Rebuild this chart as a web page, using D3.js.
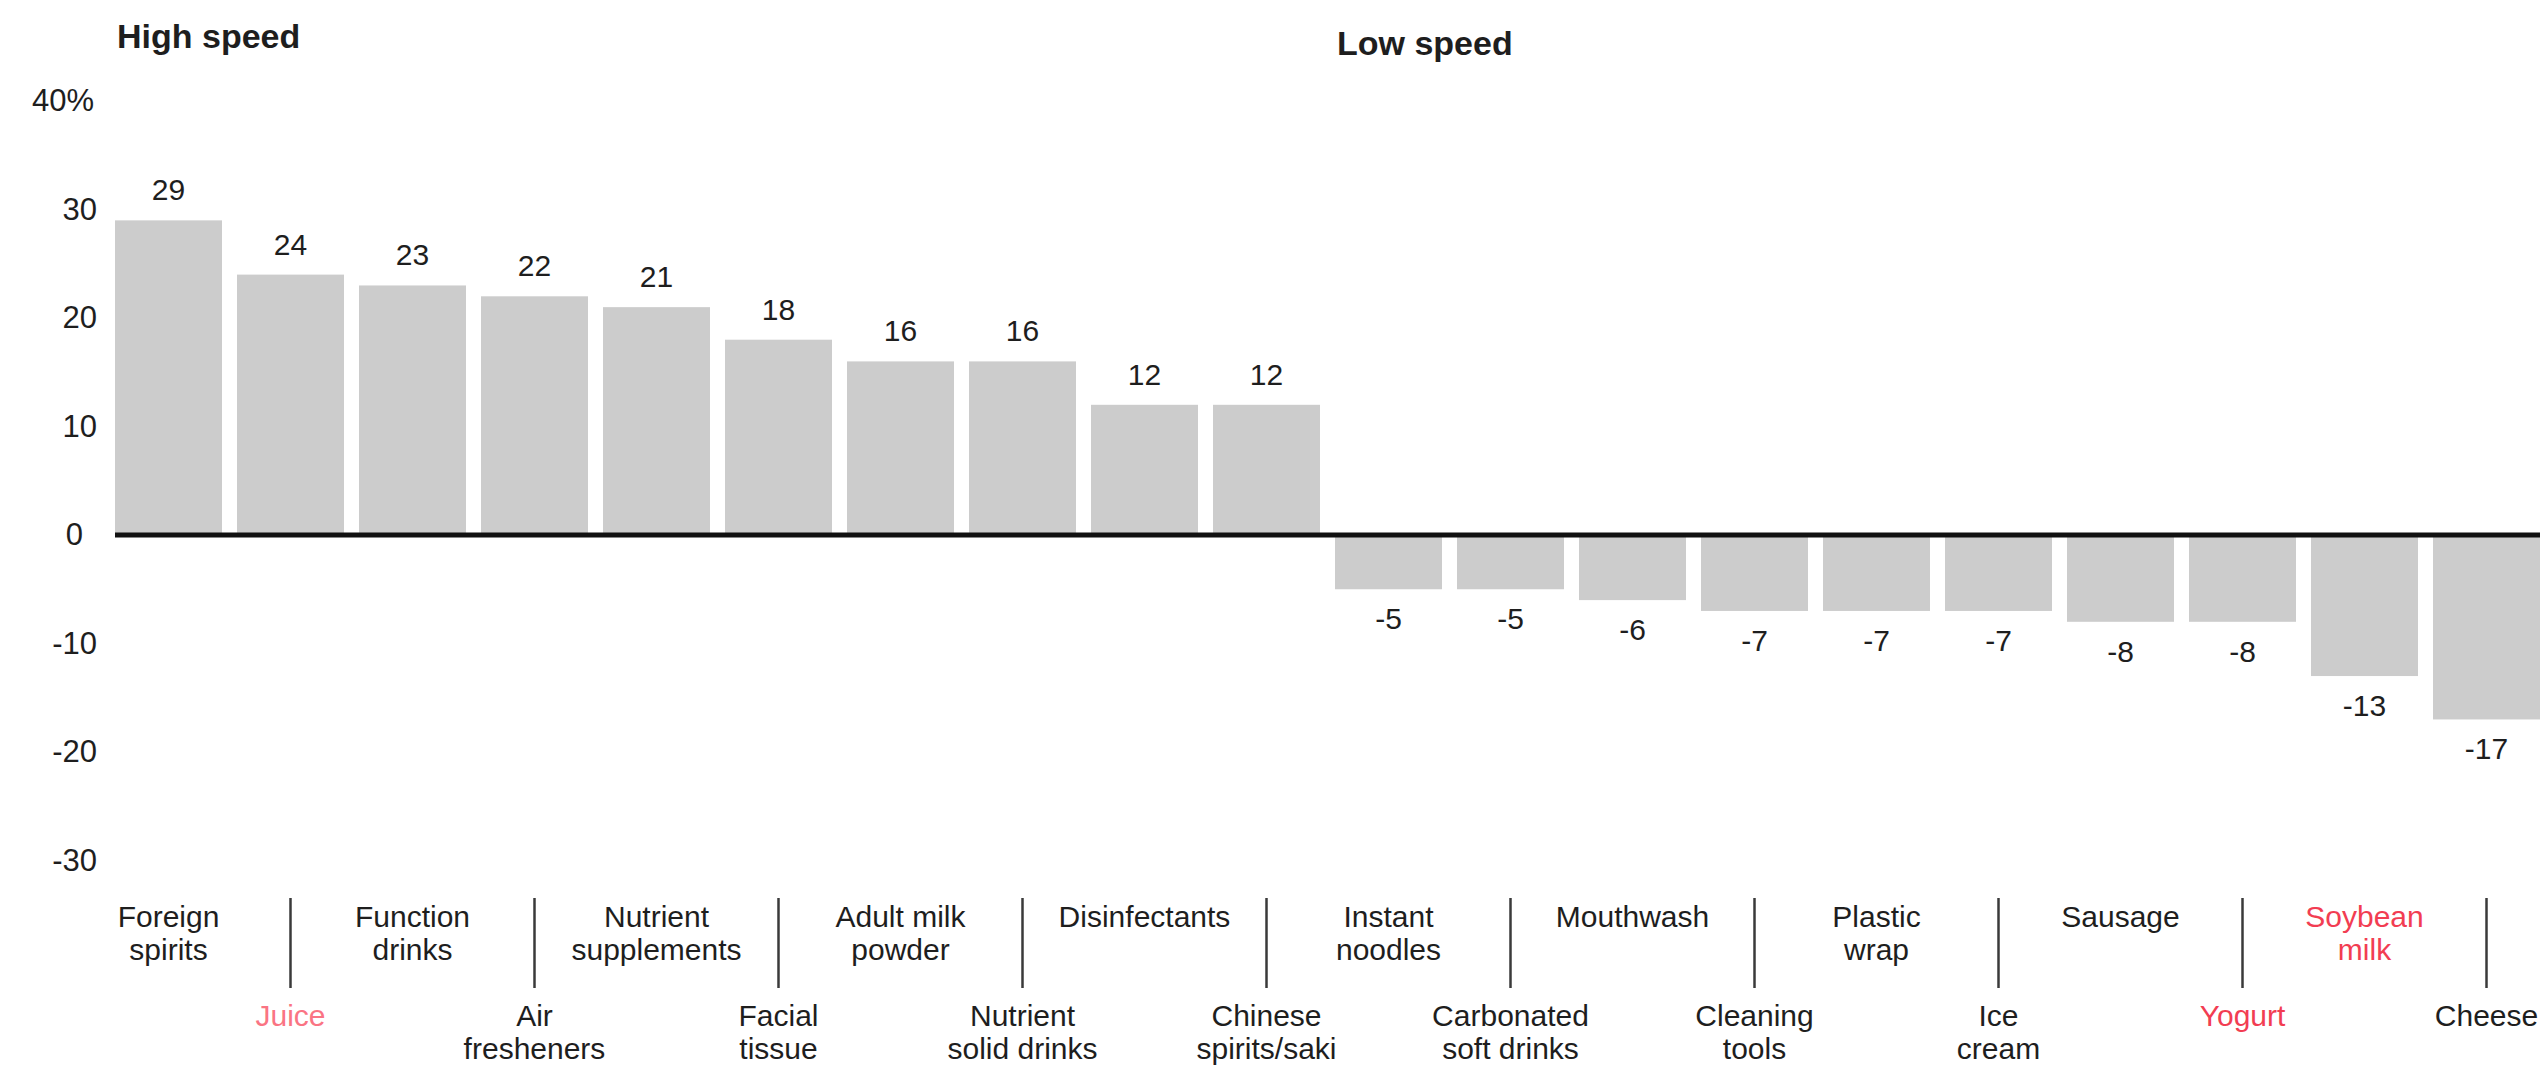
<!DOCTYPE html>
<html>
<head>
<meta charset="utf-8">
<script src="https://cdn.jsdelivr.net/npm/d3@7/dist/d3.min.js"></script>
<style>
  html, body { margin: 0; padding: 0; background: #ffffff; }
  svg { display: block; font-family: "Liberation Sans", Arial, Helvetica, sans-serif; }
</style>
</head>
<body>
<script>
// Growth by category, % (2-line labels split where they wrap)
const categories = [
  "Foreign spirits", "Juice", "Function drinks", "Air fresheners",
  "Nutrient supplements", "Facial tissue", "Adult milk powder", "Nutrient solid drinks",
  "Disinfectants", "Chinese spirits/saki", "Instant noodles", "Carbonated soft drinks",
  "Mouthwash", "Cleaning tools", "Plastic wrap", "Ice cream",
  "Sausage", "Yogurt", "Soybean milk", "Cheese"
];
const labelLines = [
  ["Foreign", "spirits"], ["Juice"], ["Function", "drinks"], ["Air", "fresheners"],
  ["Nutrient", "supplements"], ["Facial", "tissue"], ["Adult milk", "powder"], ["Nutrient", "solid drinks"],
  ["Disinfectants"], ["Chinese", "spirits/saki"], ["Instant", "noodles"], ["Carbonated", "soft drinks"],
  ["Mouthwash"], ["Cleaning", "tools"], ["Plastic", "wrap"], ["Ice", "cream"],
  ["Sausage"], ["Yogurt"], ["Soybean", "milk"], ["Cheese"]
];
const values = [29, 24, 23, 22, 21, 18, 16, 16, 12, 12, -5, -5, -6, -7, -7, -7, -8, -8, -13, -17];
const yTicks = [-30, -20, -10, 0, 10, 20, 30, 40];
const yTickLabels = ["-30", "-20", "-10", "0", "10", "20", "30", "40%"];
const groupTitles = ["High speed", "Low speed"];
const groupStart = ["Foreign spirits", "Instant noodles"];
const lightHighlight = ["Juice"];
const strongHighlight = ["Yogurt", "Soybean milk"];

const W = 2545, H = 1067;
const textColor = "#1e1e1e";

const svg = d3.select("body").append("svg")
  .attr("width", W).attr("height", H);

const x = d3.scaleBand()
  .domain(categories)
  .range([115, 2540])
  .paddingInner(0.123)
  .paddingOuter(0);

const y = d3.scaleLinear()
  .domain([-30, 40])
  .range([860.5, 101]);

// Group titles
svg.append("g").selectAll("text")
  .data(groupTitles)
  .join("text")
  .attr("x", (d, i) => x(groupStart[i]) + 2)
  .attr("y", (d, i) => i === 0 ? 48 : 55)
  .attr("font-size", 34)
  .attr("font-weight", "bold")
  .attr("fill", textColor)
  .text(d => d);

// Y axis: labels only
const yAxis = d3.axisLeft(y)
  .tickValues(yTicks)
  .tickFormat((d, i) => yTickLabels[i])
  .tickSize(0)
  .tickPadding(0);

const yg = svg.append("g")
  .attr("transform", "translate(97,0)")
  .call(yAxis);
yg.select(".domain").remove();
yg.selectAll(".tick text")
  .attr("font-size", 31)
  .attr("font-family", "\"Liberation Sans\", Arial, sans-serif")
  .attr("fill", textColor)
  .attr("dx", d => d === 0 ? -14 : (d === 40 ? -3 : 0));

// Bars
const data = categories.map((c, i) => ({ cat: c, value: values[i], lines: labelLines[i], idx: i }));

svg.append("g").selectAll("rect")
  .data(data)
  .join("rect")
  .attr("x", d => x(d.cat))
  .attr("width", x.bandwidth())
  .attr("y", d => d.value >= 0 ? y(d.value) : y(0))
  .attr("height", d => Math.abs(y(d.value) - y(0)))
  .attr("fill", "#cccccc");

// Zero line
svg.append("line")
  .attr("x1", x.range()[0]).attr("x2", x.range()[1])
  .attr("y1", y(0)).attr("y2", y(0))
  .attr("stroke", "#111111")
  .attr("stroke-width", 5);

// Value labels (plain hyphen for negatives)
svg.append("g").selectAll("text")
  .data(data)
  .join("text")
  .attr("x", d => x(d.cat) + x.bandwidth() / 2)
  .attr("y", d => d.value >= 0 ? y(d.value) - 20 : y(d.value) + 40)
  .attr("text-anchor", "middle")
  .attr("font-size", 30)
  .attr("fill", textColor)
  .text(d => String(d.value));

// Category labels, staggered in two rows with separators for the lower row
const labelColor = d => strongHighlight.includes(d.cat) ? "#f23d52"
  : lightHighlight.includes(d.cat) ? "#fa7483" : textColor;

const lab = svg.append("g").selectAll("text")
  .data(data)
  .join("text")
  .attr("text-anchor", "middle")
  .attr("font-size", 30)
  .attr("fill", labelColor)
  .attr("transform", d => `translate(${x(d.cat) + x.bandwidth() / 2},${d.idx % 2 === 0 ? 927 : 1026})`);

lab.selectAll("tspan")
  .data(d => d.lines)
  .join("tspan")
  .attr("x", 0)
  .attr("y", (d, i) => i * 33)
  .text(d => d);

svg.append("g").selectAll("line")
  .data(data.filter(d => d.idx % 2 === 1))
  .join("line")
  .attr("x1", d => x(d.cat) + x.bandwidth() / 2)
  .attr("x2", d => x(d.cat) + x.bandwidth() / 2)
  .attr("y1", 898).attr("y2", 988)
  .attr("stroke", "#3a3a3a")
  .attr("stroke-width", 2.5);
</script>
</body>
</html>
